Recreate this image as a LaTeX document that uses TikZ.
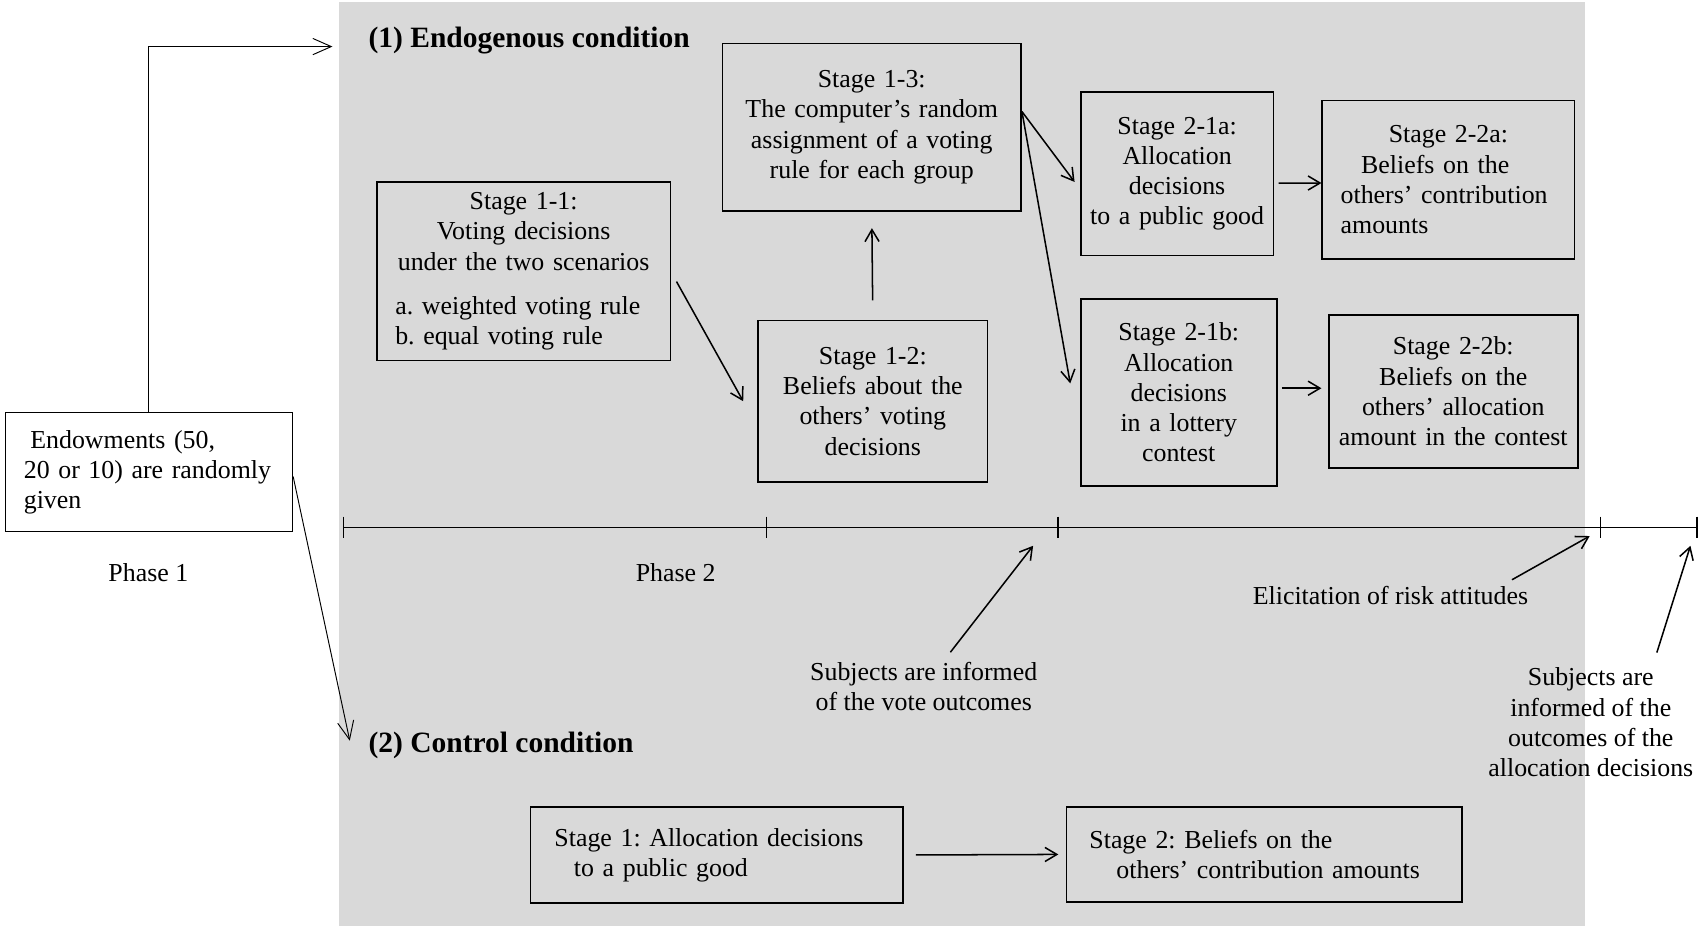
\documentclass[tikz,border=0pt]{standalone}
\usepackage{fontspec}
\setmainfont{Liberation Serif}
\usetikzlibrary{arrows.meta}
\newcommand\diagfont{\fontsize{13.6pt}{15.9pt}\selectfont\frenchspacing}
\newcommand\condfont{\fontsize{15.5pt}{18pt}\selectfont\bfseries}
\definecolor{panelgray}{RGB}{217,217,217}
\setlength{\parindent}{0pt}

\begin{document}
\begin{tikzpicture}[
  x=0.2mm, y=-0.2mm,
  box/.style={draw, line width=0.8pt, font=\diagfont, inner xsep=0.3mm, inner ysep=0pt},
  lbl/.style={font=\diagfont, align=center, inner sep=1pt},
  condhead/.style={font=\condfont, anchor=west, inner sep=0pt},
  arr/.style={-{Straight Barb[length=2.2mm,width=2.6mm]}, line width=0.8pt},
  longarr/.style={-{Straight Barb[length=3.4mm,width=3mm]}, line width=0.5pt}
]
\useasboundingbox (0,0) rectangle (1568,855);
\fill[panelgray] (313,2) rectangle (1464,855);

\node[box, fill=white, text width=52.4mm, minimum height=22mm] (endow) at (137.5,436) {\raggedright\hspace*{4.3mm}Endowments (50,\\ \hspace*{3.1mm}20 or 10) are randomly\\ \hspace*{3.1mm}given\par};

\node[condhead] (endo) at (340,37) {(1) Endogenous condition};
\node[condhead] (ctrl) at (340,688) {(2) Control condition};

\node[box, text width=53.6mm, minimum height=33mm] (s11) at (483.5,250.5) {\centering Stage 1-1:\\ Voting decisions\\ under the two scenarios\par\vspace{2.6mm}\raggedright\hspace*{3.1mm}a. weighted voting rule\\ \hspace*{3.1mm}b. equal voting rule\par};
\node[box, text width=41.8mm, minimum height=29.8mm] (s12) at (806,370.5) {\centering Stage 1-2:\\ Beliefs about the\\ others’ voting\\ decisions\par};
\node[box, text width=54.6mm, minimum height=31mm] (s13) at (805,117.5) {\centering Stage 1-3:\\ The computer’s random\\ assignment of a voting\\ rule for each group\par};
\node[box, text width=35mm, minimum height=30.2mm] (s21a) at (1087,160.5) {\centering Stage 2-1a:\\ Allocation\\ decisions\\ to a public good\par};
\node[box, text width=46mm, minimum height=29.2mm] (s22a) at (1337.5,166) {\centering Stage 2-2a:\par\raggedright\hspace*{6.9mm}Beliefs on the\\ \hspace*{3.1mm}others’ contribution\\ \hspace*{3.1mm}amounts\par};
\node[box, text width=35.6mm, minimum height=34.6mm] (s21b) at (1088.5,362.5) {\centering Stage 2-1b:\\ Allocation\\ decisions\\ in a lottery\\ contest\par};
\node[box, text width=45.4mm, minimum height=28.2mm] (s22b) at (1342,361.5) {\centering Stage 2-2b:\\ Beliefs on the\\ others’ allocation\\ amount in the contest\par};

\node[box, text width=68.2mm, minimum height=17.8mm] (c1) at (662,789.5) {\raggedright\hspace*{4.1mm}Stage 1: Allocation decisions\\ \hspace*{7.7mm}to a public good\par};
\node[box, text width=72.4mm, minimum height=17.6mm] (c2) at (1167.5,789) {\raggedright\hspace*{3.9mm}Stage 2: Beliefs on the\\ \hspace*{8.9mm}others’ contribution amounts\par};

\node[lbl] (ph1) at (137,529) {Phase 1};
\node[lbl] (ph2) at (624,529) {Phase 2};
\node[lbl] (vote) at (853,634) {Subjects are informed\\of the vote outcomes};
\node[lbl] (elicit) at (1284,550) {Elicitation of risk attitudes};
\node[lbl] (inform) at (1469,667) {Subjects are\\informed of the\\outcomes of the\\allocation decisions};

\coordinate (m0) at (317,487);
\coordinate (m1) at (708,487);
\coordinate (m2) at (977,487);
\coordinate (m3) at (1478,487);
\coordinate (m4) at (1567,487);
\draw[line width=0.8pt] (m0) -- (m4);
\foreach \m in {m0,m1,m2,m3,m4}
  \draw[line width=0.8pt] ([yshift=2mm]\m) -- ([yshift=-2mm]\m);

\coordinate (votetip) at (954,504);
\coordinate (elictip) at (1468,495);
\coordinate (infotip) at (1561,504);
\coordinate (endoin) at (307,43);
\coordinate (ctrlin) at (323,684);
\coordinate (fork) at ([yshift=2.9mm]s13.east);

\draw[longarr] (endow.north) |- (endoin);
\draw[longarr] ([yshift=-0.8mm]endow.east) -- (ctrlin);
\draw[arr] ([xshift=1mm,yshift=-1.9mm]s11.east) -- ([xshift=-2.6mm]s12.west);
\draw[arr, shorten <=3.6mm, shorten >=3mm] (s12.north) -- (s13.south);
\draw[arr] (fork) -- ([xshift=-1mm,yshift=-1.5mm]s21a.west);
\draw[arr] (fork) -- ([xshift=-1.8mm,yshift=1.7mm]s21b.west);
\draw[arr] ([xshift=0.8mm,yshift=-1.7mm]s21a.east) -- ([yshift=-0.6mm]s22a.west);
\draw[arr] ([xshift=0.8mm,yshift=0.8mm]s21b.east) -- ([xshift=-1.2mm,yshift=0.6mm]s22b.west);
\draw[arr] ([xshift=2.2mm]c1.east) -- ([xshift=-1.4mm]c2.west);
\draw[arr, shorten <=1.8mm] (vote) -- (votetip);
\draw[arr] ([xshift=-3.4mm,yshift=0.8mm]elicit.north east) -- (elictip);
\draw[arr] ([xshift=12.2mm,yshift=2.4mm]inform.north) -- (infotip);
\end{tikzpicture}
\end{document}
